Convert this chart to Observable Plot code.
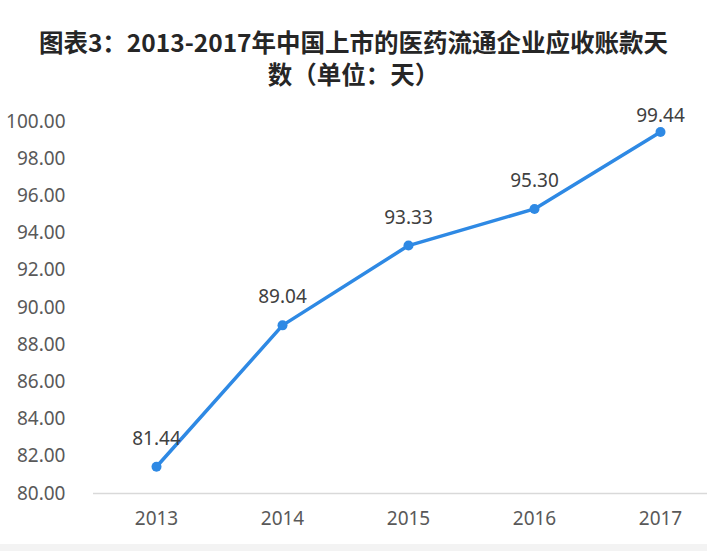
<!DOCTYPE html>
<html><head><meta charset="utf-8">
<script src="https://cdn.jsdelivr.net/npm/d3@7"></script>
<script src="https://cdn.jsdelivr.net/npm/@observablehq/plot@0.6"></script>
<style>
html,body{margin:0;padding:0;background:#f3f3f3;}
#wrap{width:707px;height:544px;background:#fff;position:relative;overflow:hidden;}
#title{height:89px;box-sizing:border-box;padding-top:26px;text-align:center;font-family:"Noto Sans CJK SC","Noto Sans",sans-serif;font-weight:bold;font-size:24.5px;line-height:32px;color:#262626;}
svg{display:block;}
</style></head>
<body>
<div id="wrap">
<div id="title">图表3：2013-2017年中国上市的医药流通企业应收账款天<br>数（单位：天）</div>
<div id="chart"></div>
</div>
<script>
const years = ["2013","2014","2015","2016","2017"];
const values = [81.44, 89.04, 93.33, 95.30, 99.44];
const yTicks = [80,82,84,86,88,90,92,94,96,98,100];

const data = years.map((y,i)=>({year:y, value:values[i]}));
const lastYear = years[years.length-1];
const font = "'Noto Sans', sans-serif";

const chart = Plot.plot({
  width: 707,
  height: 455,
  marginTop: 32,
  marginBottom: 51,
  marginLeft: 93,
  marginRight: 0,
  style: {fontFamily: font, background: "transparent", overflow: "visible"},
  x: {type: "point", domain: years, range: [155, 661], padding: 0, label: null},
  y: {domain: [80, 100], label: null},
  marks: [
    Plot.ruleY([80], {stroke: "#d9d9d9", strokeWidth: 1.5}),
    Plot.axisY({ticks: yTicks, tickSize: 0, tickPadding: 28, tickFormat: d => d.toFixed(2), fontSize: 19, fill: "#595959", label: null}),
    Plot.axisX({tickSize: 0, tickPadding: 18, fontSize: 19, fill: "#595959", label: null}),
    Plot.line(data, {x: "year", y: "value", stroke: "#2E89E4", strokeWidth: 3.5}),
    Plot.dot(data, {x: "year", y: "value", r: 5, fill: "#2E89E4"}),
    Plot.text(data.filter(d => d.year !== lastYear), {x: "year", y: "value", text: d => d.value.toFixed(2), dy: -28, fontSize: 19, fill: "#404040"}),
    Plot.text(data.filter(d => d.year === lastYear), {x: "year", y: "value", text: d => d.value.toFixed(2), dy: -16, fontSize: 19, fill: "#404040"})
  ]
});
document.getElementById("chart").appendChild(chart);
</script>
</body></html>
